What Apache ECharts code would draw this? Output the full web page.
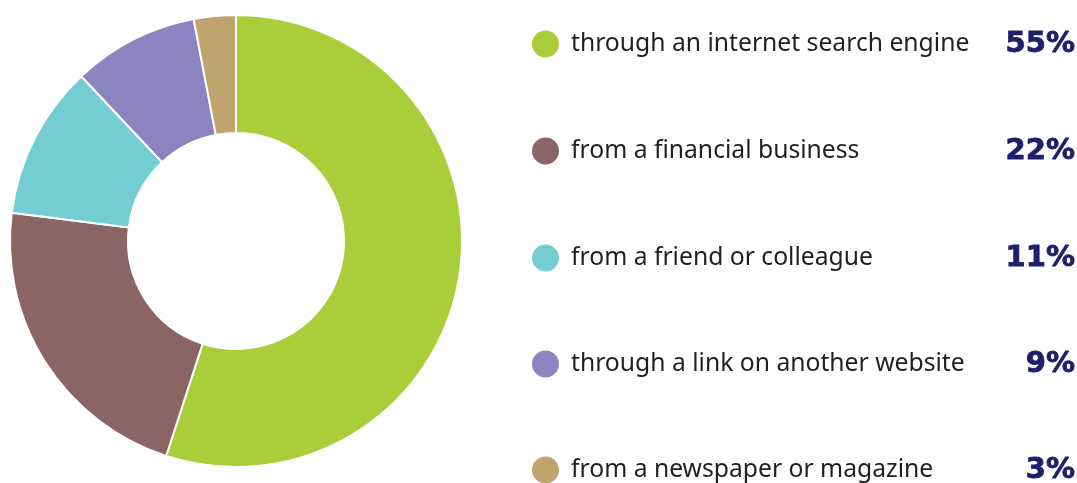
<!DOCTYPE html>
<html><head><meta charset="utf-8">
<script src="https://cdn.jsdelivr.net/npm/echarts@6/dist/echarts.min.js"></script>
<style>html,body{margin:0;padding:0;background:#fff}#c{width:1077px;height:483px}</style>
</head><body><div id="c"></div>
<script>
const categories = ['through an internet search engine','from a financial business','from a friend or colleague','through a link on another website','from a newspaper or magazine'];
const values = [55,22,11,9,3];
const colors = ['#a8cf3a','#8b6464','#74cdd3','#8b84c0','#c0a46e'];
const rowCenters = [43,150,257,363,469];
const chart = echarts.init(document.getElementById('c'));
const legends = categories.map((name,i)=>({
  orient:'vertical', left:530, top:rowCenters[i]-14.5, padding:0,
  itemWidth:29, itemHeight:29, icon:'circle', selectedMode:false,
  data:[name],
  formatter: function(n){
    const k = categories.indexOf(n);
    return '{a|'+n+'}{b|'+values[k]+'%}';
  },
  textStyle:{
    rich:{
      a:{fontFamily:'Noto Sans',fontSize:24.7,color:'#231f20',width:406,padding:[0,0,0,6],lineHeight:29},
      b:{fontFamily:'DejaVu Sans',fontSize:29,fontWeight:'bold',color:'#1f206b',width:98,align:'right',lineHeight:29,textBorderColor:'#1f206b',textBorderWidth:0.8}
    }
  }
}));
chart.setOption({
  animation:false,
  color: colors,
  legend: legends,
  series:[{
    type:'pie', center:[236,241], radius:[108,226], startAngle:90, clockwise:true,
    label:{show:false}, labelLine:{show:false},
    itemStyle:{borderColor:'#fff',borderWidth:2},
    data: categories.map((n,i)=>({name:n,value:values[i]}))
  }]
});
</script></body></html>
